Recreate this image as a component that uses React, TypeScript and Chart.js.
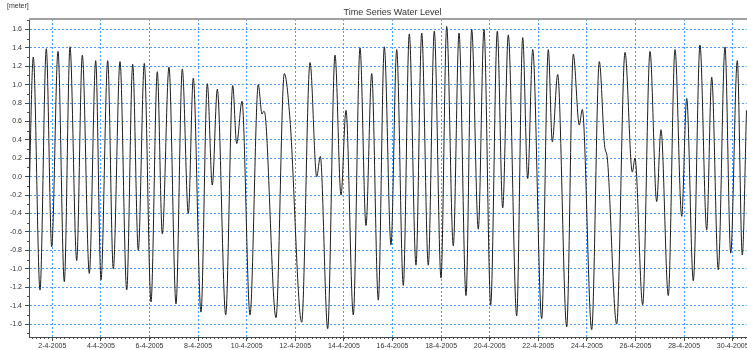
import React, { useEffect, useRef } from 'react';
import { Chart, registerables } from 'chart.js';

Chart.register(...registerables);

const TITLE = 'Time Series Water Level';
const UNIT_LABEL = '[meter]';

// time in days since 1-4-2005 00:00
const times = [
  0.041, 0.218, 0.494, 0.753, 0.975, 1.235, 1.494, 1.728, 2.004, 2.235,
  2.523, 2.786, 3.004, 3.28, 3.51, 3.786, 4.062, 4.309, 4.539, 4.786,
  5.062, 5.321, 5.527, 5.802, 6.091, 6.35, 6.597, 6.802, 7.119, 7.379,
  7.584, 7.79, 8.136, 8.424, 8.588, 8.807, 9.136, 9.477, 9.63, 9.7,
  9.774, 10.206, 10.547, 10.782, 11.263, 11.605, 11.881, 12.029, 12.333, 12.634,
  12.881, 13.086, 13.387, 13.663, 13.909, 14.144, 14.416, 14.663, 14.938, 15.173,
  15.444, 15.691, 15.967, 16.202, 16.473, 16.72, 16.996, 17.23, 17.502, 17.737,
  18.025, 18.259, 18.531, 18.765, 19.041, 19.313, 19.535, 19.765, 20.111, 20.358,
  20.564, 20.77, 21.14, 21.412, 21.576, 21.798, 22.169, 22.44, 22.687, 22.811,
  23.198, 23.51, 23.724, 23.848, 24.226, 24.568, 24.868, 24.979, 25.296, 25.597,
  25.872, 26.049, 26.35, 26.626, 26.901, 27.107, 27.379, 27.654, 27.93, 28.136,
  28.407, 28.683, 28.918, 29.189, 29.395, 29.568,
];

// water level in meters
const levels = [
  -0.25, 1.3, -1.23, 1.39, -0.76, 1.36, -1.14, 1.41, -0.91, 1.32,
  -1.05, 1.26, -1.12, 1.26, -1.0, 1.25, -1.23, 1.22, -0.8, 1.23,
  -1.36, 1.14, -0.62, 1.19, -1.38, 1.17, -0.4, 1.07, -1.47, 1.01,
  -0.09, 0.95, -1.5, 0.99, 0.36, 0.82, -1.5, 1.0, 0.68, 0.71,
  0.64, -1.53, 1.12, 0.62, -1.58, 1.24, 0.0, 0.22, -1.65, 1.32,
  -0.2, 0.72, -1.5, 1.4, -0.53, 1.12, -1.34, 1.41, -0.74, 1.38,
  -1.18, 1.55, -0.96, 1.56, -0.96, 1.58, -1.1, 1.63, -0.75, 1.56,
  -1.29, 1.6, -0.57, 1.6, -1.39, 1.58, -0.34, 1.54, -1.51, 1.51,
  -0.02, 1.38, -1.54, 1.38, 0.38, 1.11, -1.63, 1.33, 0.56, 0.73,
  -1.66, 1.25, 0.35, 0.18, -1.6, 1.35, 0.05, 0.2, -1.39, 1.36,
  -0.27, 0.51, -1.29, 1.38, -0.43, 0.85, -1.13, 1.43, -0.58, 1.08,
  -1.01, 1.41, -0.83, 1.26, -0.85, 0.72,
];

const xTickDays = [1, 3, 5, 7, 9, 11, 13, 15, 17, 19, 21, 23, 25, 27, 29];
const yTickValues = [-1.6, -1.4, -1.2, -1.0, -0.8, -0.6, -0.4, -0.2, 0.0, 0.2, 0.4, 0.6, 0.8, 1.0, 1.2, 1.4, 1.6];

const X_MIN = 0.041;
const X_MAX = 29.959;
const Y_MIN = -1.74;
const Y_MAX = 1.712;

const FONT = '"Liberation Sans", Arial, sans-serif';
const GRID_COLOR = 'rgba(40,140,255,0.85)';
const AXIS_COLOR = '#4a4a4a';

const decorPlugin = {
  id: 'decor',
  afterDraw(chart: any) {
    const { ctx, chartArea, scales } = chart;
    const xs = scales.x;
    const ys = scales.y;
    ctx.save();
    // top frame line
    ctx.strokeStyle = '#a0a0a0';
    ctx.lineWidth = 2;
    ctx.beginPath();
    ctx.moveTo(chartArea.left, chartArea.top);
    ctx.lineTo(chartArea.right, chartArea.top);
    ctx.stroke();

    // minor ticks on x (every 4 hours)
    ctx.strokeStyle = AXIS_COLOR;
    ctx.lineWidth = 1;
    ctx.beginPath();
    for (let k = Math.ceil(X_MIN * 6); k <= Math.floor(X_MAX * 6); k++) {
      const px = Math.round(xs.getPixelForValue(k / 6)) + 0.5;
      ctx.moveTo(px, chartArea.bottom);
      ctx.lineTo(px, chartArea.bottom + 2);
    }
    // minor ticks on y (every 0.1)
    for (let k = -17; k <= 17; k++) {
      if (k % 2 === 0) continue;
      const py = Math.round(ys.getPixelForValue(k / 10)) + 0.5;
      ctx.moveTo(chartArea.left - 2, py);
      ctx.lineTo(chartArea.left, py);
    }
    ctx.stroke();

    // title and unit
    ctx.fillStyle = '#333';
    ctx.textBaseline = 'middle';
    ctx.textAlign = 'center';
    ctx.font = `9px ${FONT}`;
    ctx.fillText(TITLE, (chartArea.left + chartArea.right) / 2, 13);
    ctx.textAlign = 'left';
    ctx.font = `7px ${FONT}`;
    ctx.fillText(UNIT_LABEL, 7, 6);
    ctx.restore();
  },
};

export default function App() {
  const canvasRef = useRef<HTMLCanvasElement | null>(null);

  useEffect(() => {
    const canvas = canvasRef.current;
    if (!canvas) return;
    const data = times.map((t, i) => ({ x: t, y: levels[i] }));
    const chart = new Chart(canvas, {
      type: 'line',
      data: {
        datasets: [
          {
            data,
            borderColor: '#1e1e1e',
            borderWidth: 1,
            pointRadius: 0,
            fill: false,
            cubicInterpolationMode: 'monotone',
          },
        ],
      },
      options: {
        responsive: false,
        animation: false,
        devicePixelRatio: 1,
        layout: { padding: { top: 19, right: 14, left: 0, bottom: 0 } },
        plugins: {
          legend: { display: false },
          title: { display: false },
          tooltip: { enabled: false },
        },
        scales: {
          x: {
            type: 'linear',
            min: X_MIN,
            max: X_MAX,
            afterBuildTicks: (s: any) => {
              s.ticks = xTickDays.map((v) => ({ value: v }));
            },
            afterFit: (s: any) => {
              s.height = 13;
            },
            grid: {
              color: GRID_COLOR,
              lineWidth: 1,
              drawTicks: true,
              tickLength: 4,
              tickColor: AXIS_COLOR,
              tickBorderDash: [],
            },
            border: { display: true, color: AXIS_COLOR, width: 1, dash: [2, 2] },
            ticks: {
              autoSkip: false,
              maxRotation: 0,
              padding: 1,
              color: '#333',
              font: { family: FONT, size: 7 },
              callback: (v: any) => `${Math.round(Number(v)) + 1}-4-2005`,
            },
          },
          y: {
            type: 'linear',
            min: Y_MIN,
            max: Y_MAX,
            afterBuildTicks: (s: any) => {
              s.ticks = yTickValues.map((v) => ({ value: v }));
            },
            afterFit: (s: any) => {
              s.width = 29;
            },
            grid: {
              color: GRID_COLOR,
              lineWidth: 1,
              drawTicks: true,
              tickLength: 4,
              tickColor: AXIS_COLOR,
              tickBorderDash: [],
            },
            border: { display: true, color: AXIS_COLOR, width: 1, dash: [2, 2] },
            ticks: {
              padding: 3,
              color: '#333',
              font: { family: FONT, size: 7 },
              callback: (v: any) => Number(v).toFixed(1),
            },
          },
        },
      },
      plugins: [decorPlugin],
    });
    return () => chart.destroy();
  }, []);

  return (
    <div
      style={{
        position: 'fixed',
        left: 0,
        top: 0,
        width: 747,
        height: 350,
        overflow: 'hidden',
        background: '#fff',
      }}
    >
      <canvas ref={canvasRef} width={770} height={350} style={{ display: 'block' }} />
    </div>
  );
}
